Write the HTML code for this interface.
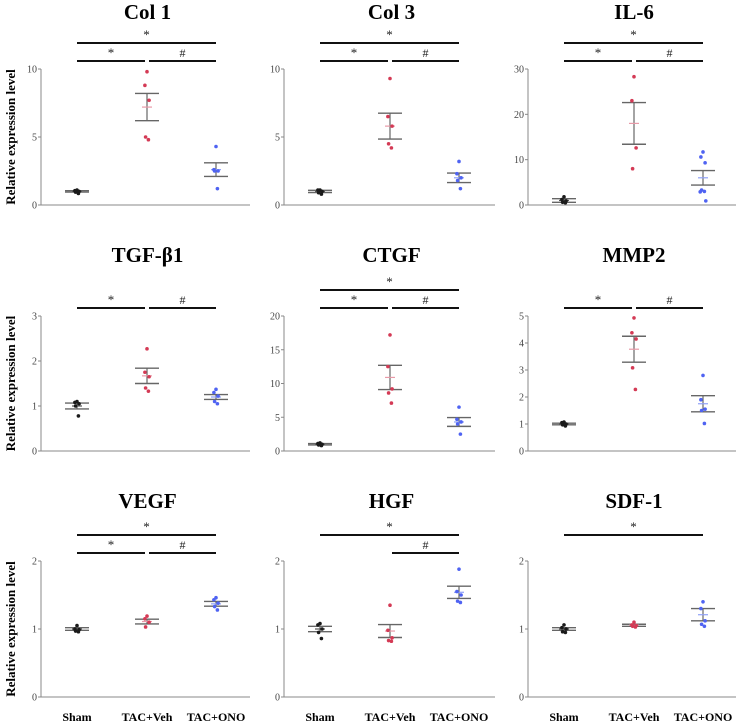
<!DOCTYPE html>
<html><head><meta charset="utf-8"><style>
html,body{margin:0;padding:0;background:#fff;}
svg{display:block;font-family:"Liberation Serif",serif;}
</style></head><body>
<svg id="fig" width="738" height="728" viewBox="0 0 738 728"></svg>
<script>
const titles=["Col 1","Col 3","IL-6","TGF-β1","CTGF","MMP2","VEGF","HGF","SDF-1"];
const groups=["Sham","TAC+Veh","TAC+ONO"];
const yMax=[10,10,30,3,20,5,2,2,2];
const yStep=[5,5,10,1,5,1,1,1,1];
const shamPts=[[1.1,1.05,1.0,0.95,0.85],[1.1,1.1,1.0,0.9,0.8],[1.8,1.2,0.9,0.6,0.5],[1.1,1.08,1.05,1.0,0.78],[1.2,1.1,1.0,0.9,0.8],[1.07,1.05,1.0,0.97,0.93],[1.05,1.0,0.99,0.97,0.96],[1.08,1.06,1.0,0.95,0.86],[1.06,1.02,1.0,0.96,0.95]];
const vehPts=[[9.8,8.8,7.7,5.0,4.8],[9.3,6.5,5.8,4.5,4.2],[28.3,23,12.6,8],[2.27,1.75,1.65,1.4,1.33],[17.2,12.5,9.2,8.6,7.1],[4.93,4.38,4.15,3.08,2.28],[1.19,1.15,1.1,1.03],[1.35,0.98,0.87,0.83,0.82],[1.1,1.06,1.05,1.04,1.03]];
const onoPts=[[4.3,2.6,2.5,2.5,1.2],[3.2,2.3,2.0,1.8,1.2],[11.7,10.6,9.3,3.3,3.0,2.9,0.9],[1.37,1.3,1.22,1.1,1.05],[6.5,4.7,4.3,4.0,2.5],[2.8,1.9,1.55,1.5,1.02],[1.46,1.43,1.38,1.33,1.28],[1.88,1.55,1.5,1.41,1.39],[1.4,1.3,1.12,1.07,1.04]];
const means=[[1.0,7.2,2.6],[1.0,5.8,2.0],[1.0,18,6.0],[1.0,1.67,1.2],[1.0,10.9,4.3],[1.0,3.77,1.75],[1.0,1.11,1.37],[1.0,0.97,1.54],[1.0,1.055,1.21]];
const sems=[[0.05,1.0,0.5],[0.08,0.95,0.35],[0.4,4.6,1.6],[0.065,0.17,0.055],[0.1,1.8,0.65],[0.03,0.48,0.3],[0.02,0.035,0.035],[0.04,0.095,0.09],[0.02,0.015,0.09]];
// significance: [top sham-ono *, sham-veh *, veh-ono #]
const sigTop=[1,1,1,0,1,0,1,1,1];
const sigLeft=[1,1,1,1,1,1,1,0,0];
const sigRight=[1,1,1,1,1,1,1,1,0];

const NS="http://www.w3.org/2000/svg";
const svg=document.getElementById('fig');
function mk(tag,attrs,parent){const e=document.createElementNS(NS,tag);for(const k in attrs)e.setAttribute(k,attrs[k]);(parent||svg).appendChild(e);return e;}
const colAxis=[41,284,528], colEnd=[250,495,736];
const rowTop=[69,316,561], rowZero=[205,451,697], rowTitle=[19,262,508];
const ptColors=["#1a1a1a","#d43a55","#4f63f2"];
const meanColors=["#555","#e89aa8","#8fa0f7"];
const offs=[0,-3,3,-2,2,-4,4];

for(let p=0;p<9;p++){
  const c=p%3,r=Math.floor(p/3);
  const ax=colAxis[c], top=rowTop[r], zero=rowZero[r];
  const gx=[ax+36,ax+106,ax+175];
  const y=v=>zero-(v/yMax[p])*(zero-top);
  const g=mk('g',{});
  
  
  const t=mk('text',{x:(ax+colEnd[c])/2+2,y:rowTitle[r],'text-anchor':'middle','font-size':'21','font-weight':'bold',fill:'#000'},g);
  t.textContent=titles[p];
  
  
  const yl=mk('line',{x1:ax,y1:top,x2:ax,y2:zero,stroke:'#888','stroke-width':1},g);
  
  
  const xl=mk('line',{x1:ax,y1:zero,x2:colEnd[c],y2:zero,stroke:'#888','stroke-width':1},g);
  
  
  for(let v=0;v<=yMax[p]+1e-9;v+=yStep[p]){
    mk('line',{x1:ax-3,y1:y(v),x2:ax,y2:y(v),stroke:'#888'},g);
    const tl=mk('text',{x:ax-4,y:y(v)+3.5,'text-anchor':'end','font-size':'10',fill:'#444'},g);
    tl.textContent=v;
    
    
  }
  const pts=[shamPts[p],vehPts[p],onoPts[p]];
  for(let k=0;k<3;k++){
    const m=means[p][k], s=sems[p][k];
    mk('line',{x1:gx[k],y1:y(m+s),x2:gx[k],y2:y(m-s),stroke:'#666','stroke-width':1.2},g);
    mk('line',{x1:gx[k]-12,y1:y(m+s),x2:gx[k]+12,y2:y(m+s),stroke:'#666','stroke-width':1.4},g);
    mk('line',{x1:gx[k]-12,y1:y(m-s),x2:gx[k]+12,y2:y(m-s),stroke:'#666','stroke-width':1.4},g);
    mk('line',{x1:gx[k]-5,y1:y(m),x2:gx[k]+5,y2:y(m),stroke:meanColors[k],'stroke-width':1.2},g);
    pts[k].forEach((v,i)=>{
      const d=mk('circle',{cx:gx[k]+offs[i%offs.length]*0.7,cy:y(v),r:1.8,fill:ptColors[k]},g);
      
      
    });
  }
  const l1=top-26,l2=top-8;
  function sig(x1,x2,yy,sym){
    const ln=mk('line',{x1:x1,y1:yy,x2:x2,y2:yy,stroke:'#111','stroke-width':2},g);
    
    
    const s=mk('text',{x:(x1+x2)/2,y:yy-4,'text-anchor':'middle','font-size':sym=='*'?'13':'12',fill:'#222'},g);
    s.textContent=sym;
    
    
  }
  if(sigTop[p]) sig(gx[0],gx[2],l1,'*');
  if(sigLeft[p]) sig(gx[0],gx[1]-2,l2,'*');
  if(sigRight[p]) sig(gx[1]+2,gx[2],l2,'#');
  if(c==0){
    const yt=mk('text',{x:0,y:0,transform:'translate(15,'+((top+zero)/2)+') rotate(-90)','text-anchor':'middle','font-size':'13','font-weight':'bold',fill:'#000'},g);
    yt.textContent='Relative expression level';
    
    
  }
  if(r==2){
    for(let k=0;k<3;k++){
      const xt=mk('text',{x:gx[k],y:721,'text-anchor':'middle','font-size':'12','font-weight':'bold',fill:'#000'},g);
      xt.textContent=groups[k];
      
      
    }
  }
}
</script>
</body></html>
